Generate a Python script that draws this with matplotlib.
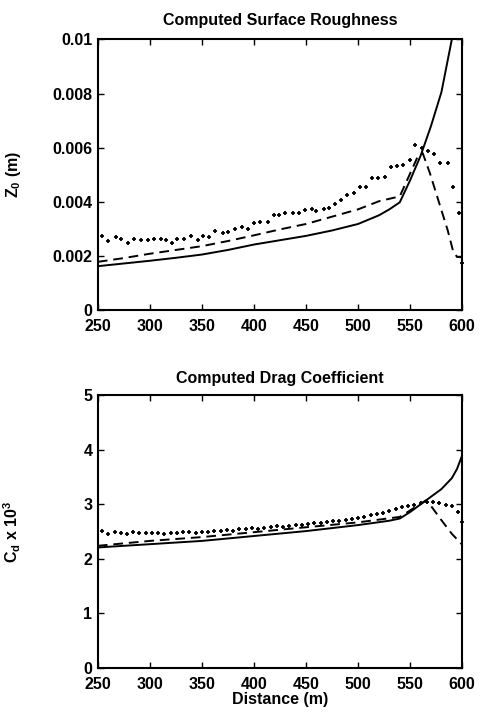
import matplotlib
matplotlib.use("Agg")
import matplotlib.pyplot as plt
from matplotlib.ticker import FixedLocator, FixedFormatter

plt.rcParams['font.family'] = ['Liberation Sans', 'DejaVu Sans']
plt.rcParams['font.weight'] = 'bold'
plt.rcParams['mathtext.fontset'] = 'custom'
plt.rcParams['mathtext.rm'] = 'Liberation Sans:bold'
plt.rcParams['mathtext.it'] = 'Liberation Sans:bold'
plt.rcParams['mathtext.bf'] = 'Liberation Sans:bold'

# ---------------- Top panel: surface roughness (units of 1e-3 m) ----------------
z_solid_x = [250, 275, 300, 325, 350, 375, 400, 425, 450, 475, 500, 520, 530, 540,
             550, 560, 570, 580, 590, 600]
z_solid_y = [1.62, 1.72, 1.82, 1.93, 2.05, 2.22, 2.42, 2.58, 2.74, 2.94, 3.18, 3.50,
             3.72, 3.98, 4.80, 5.70, 6.80, 8.05, 10.0, 12.5]

z_dash_x = [250, 275, 300, 325, 350, 375, 400, 425, 450, 475, 500, 520, 540, 550,
            557, 562, 569, 577, 586, 591, 595, 600]
z_dash_y = [1.78, 1.92, 2.08, 2.22, 2.36, 2.55, 2.76, 2.98, 3.18, 3.45, 3.72, 4.02,
            4.20, 5.05, 5.65, 5.80, 5.05, 4.06, 2.95, 2.21, 1.96, 1.95]

z_dot_x = [254, 260, 267, 272, 279, 285, 291, 298, 304, 311, 315, 321, 326, 333,
           339, 346, 351, 357, 363, 370, 375, 382, 388, 394, 400, 406, 413, 419,
           424, 430, 437, 443, 449, 456, 460, 467, 472, 478, 484, 489, 496, 502,
           508, 513, 519, 526, 532, 537, 543, 550, 555, 561, 567, 573, 579, 586,
           591, 597, 600]
z_dot_y = [2.75, 2.56, 2.68, 2.64, 2.48, 2.64, 2.59, 2.59, 2.64, 2.61, 2.59, 2.49,
           2.64, 2.61, 2.73, 2.59, 2.73, 2.69, 2.93, 2.83, 2.87, 2.98, 3.05, 3.01,
           3.23, 3.26, 3.26, 3.51, 3.51, 3.57, 3.57, 3.57, 3.69, 3.72, 3.67, 3.72,
           3.76, 3.92, 4.06, 4.25, 4.33, 4.53, 4.56, 4.87, 4.87, 4.93, 5.30, 5.34,
           5.36, 5.54, 6.08, 5.99, 5.87, 5.77, 5.44, 5.44, 4.53, 3.60, 1.74]

# ---------------- Bottom panel: drag coefficient (x 1e-3) ----------------
c_solid_x = [250, 300, 350, 400, 450, 500, 530, 540, 550, 560, 570, 580, 590, 595, 600]
c_solid_y = [2.21, 2.27, 2.33, 2.42, 2.51, 2.62, 2.70, 2.74, 2.86, 3.00, 3.14, 3.28,
             3.48, 3.65, 3.90]

c_dash_x = [250, 300, 350, 400, 450, 500, 540, 550, 560, 565, 570, 580, 590, 600]
c_dash_y = [2.24, 2.33, 2.40, 2.49, 2.58, 2.67, 2.77, 2.89, 3.01, 3.07, 2.97, 2.71,
            2.46, 2.26]

c_dot_x = [254, 260, 266, 272, 278, 284, 290, 296, 302, 308, 314, 320, 326, 332,
           338, 344, 350, 356, 362, 368, 374, 380, 386, 392, 398, 404, 410, 416,
           422, 428, 434, 440, 446, 452, 458, 464, 470, 476, 482, 488, 494, 500,
           506, 512, 518, 524, 530, 536, 542, 548, 554, 560, 566, 572, 578, 584,
           590, 596, 600]
c_dot_y = [2.52, 2.46, 2.50, 2.48, 2.45, 2.49, 2.48, 2.47, 2.48, 2.47, 2.46, 2.48,
           2.47, 2.49, 2.50, 2.47, 2.50, 2.49, 2.52, 2.51, 2.53, 2.52, 2.54, 2.55,
           2.56, 2.55, 2.57, 2.58, 2.60, 2.59, 2.61, 2.62, 2.62, 2.64, 2.65, 2.66,
           2.67, 2.69, 2.70, 2.71, 2.73, 2.75, 2.77, 2.80, 2.82, 2.85, 2.88, 2.92,
           2.96, 2.97, 2.99, 3.02, 3.05, 3.04, 3.02, 2.99, 2.97, 2.86, 2.67]

x_ticks = [250, 300, 350, 400, 450, 500, 550, 600]
z_ticks = [0, 2, 4, 6, 8, 10]
z_tick_labels = ['0', '0.002', '0.004', '0.006', '0.008', '0.01']
c_ticks = [0, 1, 2, 3, 4, 5]
c_tick_labels = ['0', '1', '2', '3', '4', '5']

fig = plt.figure(figsize=(4.82, 7.16), dpi=100)
ax1 = fig.add_axes([0.203, 0.567, 0.756, 0.378])
ax2 = fig.add_axes([0.203, 0.067, 0.756, 0.381])

lw = 1.4
dash = (5, 3)
for ax, sx, sy, dx, dy, px, py in [
        (ax1, z_solid_x, z_solid_y, z_dash_x, z_dash_y, z_dot_x, z_dot_y),
        (ax2, c_solid_x, c_solid_y, c_dash_x, c_dash_y, c_dot_x, c_dot_y)]:
    ax.plot(sx, sy, color='black', lw=lw)
    ax.plot(dx, dy, color='black', lw=lw, linestyle=(0, dash))
    ax.plot(px, py, color='black', linestyle='none', marker='+', markersize=3.5,
            markeredgewidth=1.3, clip_on=False)
    ax.set_xlim(250, 600)
    ax.xaxis.set_major_locator(FixedLocator(x_ticks))
    ax.tick_params(direction='in', top=True, right=True, length=4, width=1,
                   labelsize=11.5)
    ax.tick_params(axis='x', pad=6.5)
    ax.tick_params(axis='y', pad=4)
    for s in ax.spines.values():
        s.set_linewidth(1.5)

ax1.set_ylim(0, 10)
ax1.yaxis.set_major_locator(FixedLocator(z_ticks))
ax1.yaxis.set_major_formatter(FixedFormatter(z_tick_labels))
ax1.set_title('Computed Surface Roughness', fontsize=11.5, pad=10, fontweight='bold')
ax1.set_ylabel(r'Z$_0$ (m)', fontsize=11.5, fontweight='bold')
ax1.yaxis.set_label_coords(-0.205, 0.5)

ax2.set_ylim(0, 5)
ax2.yaxis.set_major_locator(FixedLocator(c_ticks))
ax2.yaxis.set_major_formatter(FixedFormatter(c_tick_labels))
ax2.set_title('Computed Drag Coefficient', fontsize=11.5, pad=9, fontweight='bold')
ax2.set_ylabel(r'C$_d$ x 10$^3$', fontsize=11.5, fontweight='bold')
ax2.yaxis.set_label_coords(-0.205, 0.5)
ax2.set_xlabel('Distance (m)', fontsize=11.5, labelpad=0, fontweight='bold')

fig.savefig('out.png', dpi=100)
